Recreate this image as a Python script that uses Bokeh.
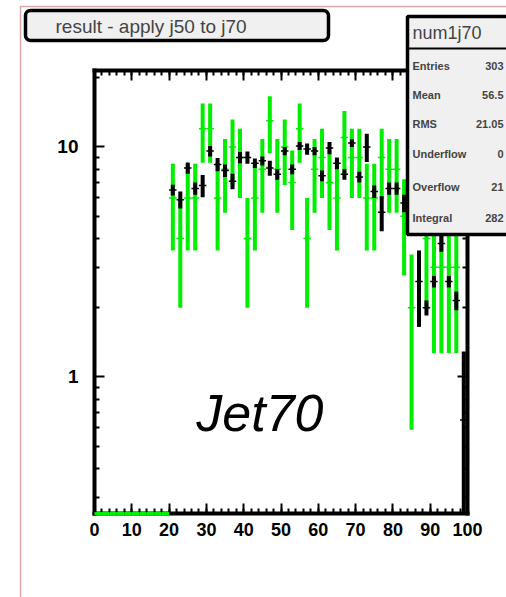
import math
import numpy as np
from bokeh.plotting import figure
from bokeh.models import (FixedTicker, LinearAxis, LogAxis, Range1d, BoxAnnotation, Label)
from bokeh.embed import file_html
from bokeh.resources import INLINE
from bokeh.core.properties import value

# ---------------- data ----------------
bin_centers = [21, 23, 25, 27, 29, 31, 33, 35, 37, 39,
               41, 43, 45, 47, 49, 51, 53, 55, 57, 59,
               61, 63, 65, 67, 69, 71, 73, 75, 77, 79,
               81, 83, 85, 87, 89, 91, 93, 95, 97, 99]
bin_half_width = 1.0

green_counts = [6, 4, 6, 6, 12, 12, 6, 8, 10, 9,
                4, 6, 8, 13, 8, 10, 7, 12, 4, 8,
                9, 7, 6, 11, 9, 9, 6, 6, 9, 8,
                8, 5, 2, np.nan, 4, 3, 3, 3, 3, np.nan]
green_errors = [2.45, 2.0, 2.45, 2.45, 3.46, 3.46, 2.45, 2.83, 3.16, 3.0,
                2.0, 2.45, 2.83, 3.61, 2.83, 3.16, 2.65, 3.46, 2.0, 2.83,
                3.0, 2.65, 2.45, 3.32, 3.0, 3.0, 2.45, 2.45, 3.0, 2.83,
                2.83, 2.24, 1.41, np.nan, 2.0, 1.73, 1.73, 1.73, 1.73, np.nan]
green_empty_bins = [1, 3, 5, 7, 9, 11, 13, 15, 17, 19]

black_values = [6.5, 5.9, 8.1, 6.6, 6.8, 9.6, 8.4, 7.9, 7.1, 9.0,
                9.0, 8.5, 8.7, 8.1, 7.6, 9.6, 8.0, 10.1, 9.8, 9.6,
                7.5, 9.9, 8.5, 7.6, 10.4, 7.4, 10.0, 6.4, 5.2, 6.6,
                6.6, 5.7, np.nan, 2.6, 2.0, 2.6, 3.8, 2.6, 2.15, 0.65]
black_errors = [0.35, 0.5, 0.45, 0.4, 0.75, 0.5, 0.55, 0.5, 0.55, 0.5,
                0.55, 0.4, 0.4, 0.6, 0.4, 0.4, 0.4, 0.4, 0.55, 0.4,
                0.4, 0.6, 0.5, 0.4, 0.4, 0.4, 1.4, 0.4, 0.9, 0.4,
                0.4, 0.5, np.nan, 0.95, 0.15, 0.15, 0.3, 0.15, 0.2, 0.64]

x_axis_min, x_axis_max = 0, 100
y_axis_min, y_axis_max = 0.2549, 21.5
x_major = [0, 10, 20, 30, 40, 50, 60, 70, 80, 90, 100]
x_minor = list(range(0, 101, 2))
y_major = [1, 10]
y_minor = [0.3, 0.4, 0.5, 0.6, 0.7, 0.8, 0.9, 2, 3, 4, 5, 6, 7, 8, 9, 20]
y_labels = {1: "1", 10: "10"}

title_text = "result - apply j50 to j70"
stats_name = "num1j70"
stats_keys = ["Entries", "Mean", "RMS", "Underflow", "Overflow", "Integral"]
stats_vals = ["303", "56.5", "21.05", "0", "21", "282"]
annotation_text = "Jet70"

# ---------------- layout (pixels) ----------------
W, H = 506, 597
FL, FR, FT, FB = 94, 467, 70, 513   # axis box on the canvas

xs = (x_axis_max - x_axis_min) / (FR - FL)
x_start = x_axis_min - FL * xs
x_end = x_axis_max + (W - FR) * xs
ld0, ld1 = math.log10(y_axis_min), math.log10(y_axis_max)
ys = (ld1 - ld0) / (FB - FT)
y_start = 10 ** (ld0 - (H - FB) * ys)
y_end = 10 ** (ld1 + FT * ys)

GREEN = "#00ee00"
FONT = "Liberation Sans"

p = figure(width=W, height=H, x_range=Range1d(x_start, x_end), y_range=Range1d(y_start, y_end),
           y_axis_type="log", output_backend="svg", toolbar_location=None, min_border=0)
p.xgrid.visible = False
p.ygrid.visible = False
p.outline_line_color = None
p.background_fill_color = "white"
p.border_fill_color = "white"

def style_axis(ax):
    ax.major_tick_in = 10
    ax.major_tick_out = 0
    ax.minor_tick_in = 5
    ax.minor_tick_out = 0
    ax.major_tick_line_width = 2
    ax.minor_tick_line_width = 2
    ax.major_tick_line_color = "black"
    ax.minor_tick_line_color = "black"
    ax.axis_line_width = 4
    ax.axis_line_color = "black"
    ax.axis_line_cap = "square"
    ax.major_label_text_font = FONT
    ax.major_label_text_font_style = "bold"
    ax.major_label_text_font_size = "18px"
    ax.major_label_text_color = "black"

xa = p.xaxis[0]
xa.ticker = FixedTicker(ticks=x_major, minor_ticks=x_minor)
xa.fixed_location = y_axis_min
xa.bounds = (x_axis_min, x_axis_max)
style_axis(xa)
xa.major_label_standoff = 9

ya = p.yaxis[0]
ya.ticker = FixedTicker(ticks=y_major, minor_ticks=y_minor)
ya.fixed_location = x_axis_min
ya.bounds = (y_axis_min, y_axis_max)
ya.major_label_overrides = y_labels
style_axis(ya)
ya.major_label_text_font_size = "19px"
ya.major_label_standoff = 16

top_ax = LinearAxis(ticker=FixedTicker(ticks=x_major, minor_ticks=x_minor),
                    fixed_location=y_axis_max, bounds=(x_axis_min, x_axis_max))
style_axis(top_ax)
top_ax.major_label_overrides = {t: "" for t in x_major}
p.add_layout(top_ax, "above")
right_ax = LogAxis(ticker=FixedTicker(ticks=y_major, minor_ticks=y_minor),
                   fixed_location=x_axis_max, bounds=(y_axis_min, y_axis_max))
style_axis(right_ax)
right_ax.major_label_overrides = {1: "", 10: ""}
p.add_layout(right_ax, "right")

xc = np.array(bin_centers, dtype=float)
g = np.array(green_counts, dtype=float)
ge = np.array(green_errors, dtype=float)
b = np.array(black_values, dtype=float)
be = np.array(black_errors, dtype=float)

# green histogram
p.segment(x0=xc, y0=np.maximum(g - ge, y_axis_min), x1=xc, y1=g + ge, line_color=GREEN, line_width=4)
p.segment(x0=xc - bin_half_width, y0=g, x1=xc + bin_half_width, y1=g, line_color=GREEN, line_width=1.5)
p.scatter(xc, g, size=3, color=GREEN)
ez = np.array(green_empty_bins, dtype=float)
p.segment(x0=ez - bin_half_width, y0=[y_axis_min] * len(ez), x1=ez + bin_half_width,
          y1=[y_axis_min] * len(ez), line_color=GREEN, line_width=3, level="overlay")

# black histogram
p.segment(x0=xc, y0=np.maximum(b - be, y_axis_min), x1=xc, y1=b + be, line_color="black", line_width=4)
p.segment(x0=xc - bin_half_width, y0=b, x1=xc + bin_half_width, y1=b, line_color="black", line_width=1.5)
p.scatter(xc, b, size=3, color="black")

p.text(x=[27.3], y=[0.70], text=[annotation_text], text_font=value(FONT), text_font_style="italic",
       text_font_size="52px", text_color="black", text_baseline="alphabetic", text_align="left")

# ---------------- boxes and texts placed on the canvas ----------------
def ax_(px):
    return px
def ay_(py):
    return H - py

def sbox(l, t, r, bt, **kw):
    return BoxAnnotation(left=ax_(l), right=ax_(r), top=ay_(t), bottom=ay_(bt),
                         left_units="screen", right_units="screen", top_units="screen",
                         bottom_units="screen", line_alpha=1.0, **kw)

p.add_layout(sbox(20, 6, 800, 900, fill_alpha=0, line_color="#e0a8a8", line_width=1.5))
p.add_layout(sbox(25, 10, 328, 40, fill_color="#f0f0f0", fill_alpha=1, line_color="black",
                  line_width=3.5, border_radius=5))
p.add_layout(Label(x=ax_(55), y=ay_(26), x_units="screen", y_units="screen", text=title_text,
                   text_font=FONT, text_font_size="19px", text_baseline="middle"))

p.add_layout(sbox(407, 16, 530, 234, fill_color="#f0f0f0", fill_alpha=1, line_color="black",
                  line_width=3.5))
p.add_layout(sbox(407, 16, 530, 48, fill_alpha=0, line_color="black", line_width=2))
p.add_layout(Label(x=ax_(412), y=ay_(32), x_units="screen", y_units="screen", text=stats_name,
                   text_font=FONT, text_font_size="18px", text_baseline="middle"))
row_y = [65, 94, 123, 153, 186, 217]
for k, v, yy in zip(stats_keys, stats_vals, row_y):
    p.add_layout(Label(x=ax_(412), y=ay_(yy), x_units="screen", y_units="screen", text=k,
                       text_font=FONT, text_font_size="11px", text_font_style="bold",
                       text_baseline="middle"))
    p.add_layout(Label(x=ax_(503), y=ay_(yy), x_units="screen", y_units="screen", text=v,
                       text_font=FONT, text_font_size="11px", text_font_style="bold",
                       text_baseline="middle", text_align="right"))

open("out.html", "w").write(file_html(p, INLINE))
